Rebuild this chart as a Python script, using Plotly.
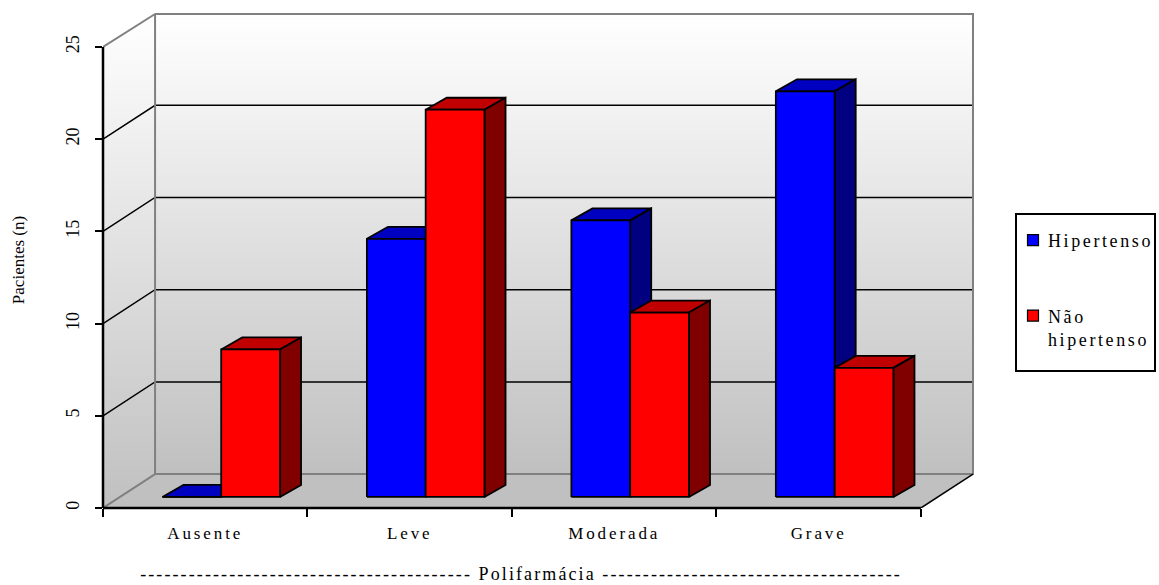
import plotly.graph_objects as go

categories = ["Ausente", "Leve", "Moderada", "Grave"]
hipertenso = [0, 14, 15, 22]
nao_hipertenso = [8, 21, 10, 7]
y_ticks = [0, 5, 10, 15, 20, 25]

SERIF = "Liberation Serif"
W, H = 1159, 585
L, R, T, B = 103, 184, 12, 77
# 3D projection in data units
WALL_X, WALL_Y = 4.2546, 26.79
X_MAX, Y_MAX = 4.2644, 26.90
WALL_DX, WALL_DY = 0.2546, 1.84
BAR_W, BAR_OFF, BAR_BASE = 0.2875, 0.078, 0.6
BAR_DX, BAR_DY = 0.103, 0.65

fig = go.Figure()


def poly(xs, ys, fill=None, line="black", width=1.8, gradient=None):
    kw = dict(x=xs, y=ys, mode="lines", showlegend=False, hoverinfo="skip",
              line=dict(color=line, width=width, simplify=False))
    if gradient:
        kw.update(fill="toself", fillgradient=gradient)
    elif fill:
        kw.update(fill="toself", fillcolor=fill)
    fig.add_trace(go.Scatter(**kw))


grad = dict(type="vertical", colorscale=[[0, "#c0c0c0"], [1, "#ffffff"]])
NONE = "rgba(0,0,0,0)"
# Side wall and back wall
poly([0, WALL_DX, WALL_DX, 0, 0], [0, WALL_DY, WALL_Y, 25, 0], gradient=grad, line=NONE, width=0)
poly([WALL_DX, WALL_X, WALL_X, WALL_DX, WALL_DX], [WALL_DY, WALL_DY, WALL_Y, WALL_Y, WALL_DY], gradient=grad,
     line=NONE, width=0)
# Floor
poly([0, WALL_DX, WALL_X, 4, 0], [0, WALL_DY, WALL_DY, 0, 0], fill="#c0c0c0", line=NONE, width=0)
# Gridlines
for v in y_ticks[1:-1]:
    poly([0, WALL_DX, WALL_X], [v, v + WALL_DY, v + WALL_DY], width=1.5)
# Gray wall edges
poly([0, WALL_DX, WALL_DX], [25, WALL_Y, WALL_DY], line="#808080", width=2)
poly([WALL_DX, WALL_X, WALL_X, WALL_DX], [WALL_Y, WALL_Y, WALL_DY, WALL_DY], line="#808080", width=2)
poly([0, WALL_DX], [0, WALL_DY], line="#808080", width=2)
poly([4, WALL_X], [0, WALL_DY], line="black", width=1.5)


def bar(i, val, side, front, top, darkside):
    c = i + 0.5 + BAR_OFF
    x0 = c - BAR_W if side == 0 else c
    x1 = x0 + BAR_W
    y0, y1 = BAR_BASE, BAR_BASE + val
    poly([x0, x0 + BAR_DX, x1 + BAR_DX, x1, x0], [y1, y1 + BAR_DY, y1 + BAR_DY, y1, y1], fill=top)
    poly([x1, x1 + BAR_DX, x1 + BAR_DX, x1, x1], [y0, y0 + BAR_DY, y1 + BAR_DY, y1, y0], fill=darkside)
    poly([x0, x1, x1, x0, x0], [y0, y0, y1, y1, y0], fill=front)


for i in range(len(categories)):
    bar(i, hipertenso[i], 0, "#0000ff", "#0000c0", "#000080")
    bar(i, nao_hipertenso[i], 1, "#ff0000", "#c00000", "#800000")

# Legend entries
for name, col, grp in [("Hipertenso", "#0000ff", "a"), ("Não<br>hipertenso", "#ff0000", "b")]:
    fig.add_trace(go.Scatter(x=[None], y=[None], mode="markers", name=name, legendgroup=grp,
                             marker=dict(symbol="square", size=11, color=col, line=dict(color="black", width=1.2))))

plot_w, plot_h = W - L - R, H - T - B


def px(v):
    return (v - L) / plot_w


def py(v):
    return 1 - (v - T) / plot_h


fig.update_layout(
    width=W, height=H, margin=dict(l=L, r=R, t=T, b=B, pad=0, autoexpand=False),
    paper_bgcolor="white", plot_bgcolor="white",
    font=dict(family=SERIF, size=17, color="black"),
    xaxis=dict(range=[0, X_MAX], tickmode="array", tickvals=[0.5, 1.5, 2.5, 3.5], ticktext=categories,
               ticks="", showgrid=False, zeroline=False, showline=False, fixedrange=True, automargin=False,
               tickfont=dict(size=17), ticklabelstandoff=13,
               minor=dict(tickmode="array", tickvals=[0, 1, 2, 3, 4], ticks="outside", ticklen=8, tickwidth=2,
                          tickcolor="black", showgrid=False),
               title=dict(text="-" * 41 + " Polifarmácia " + "-" * 37, font=dict(size=18))),
    yaxis=dict(range=[0, Y_MAX], tickmode="array", tickvals=y_ticks, tickangle=-90,
               ticks="outside", ticklen=7, tickwidth=2, tickcolor="black", showgrid=False, zeroline=False,
               showline=False, fixedrange=True, tickfont=dict(size=18), ticklabelstandoff=9, automargin=False,
               title=dict(text="Pacientes (n)", font=dict(size=17))),
    legend=dict(x=px(1013), y=py(222), xanchor="left", yanchor="top",
                bgcolor=NONE, borderwidth=0, valign="top",
                tracegroupgap=49, itemwidth=30, font=dict(size=18), entrywidth=150, entrywidthmode="pixels"),
    shapes=[
        dict(type="line", xref="paper", yref="paper", x0=0, x1=4 / X_MAX, y0=0, y1=0,
             line=dict(color="black", width=2.5)),
        dict(type="line", xref="paper", yref="paper", x0=0, x1=0, y0=0, y1=25 / Y_MAX,
             line=dict(color="black", width=2.5)),
        dict(type="rect", xref="paper", yref="paper", x0=px(1016), x1=px(1155), y0=py(214), y1=py(371),
             line=dict(color="black", width=2), fillcolor="white", layer="below"),
    ],
)

post = """
var s=document.createElement('style');
s.textContent="body{margin:0}.xtick text{letter-spacing:2.9px}.legendtext{letter-spacing:2.6px;transform:translateX(-5px)}.legend *{clip-path:none !important}.xtitle{letter-spacing:2.1px;transform:translate(-18px,10px)}.g-ytitle{transform:translateX(-18px)}";
document.head.appendChild(s);
"""
fig.write_html("out.html", post_script=post, config=dict(displayModeBar=False))
